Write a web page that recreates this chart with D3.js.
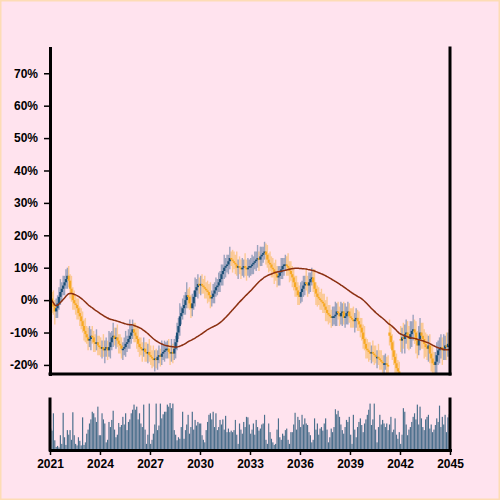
<!DOCTYPE html>
<html><head><meta charset="utf-8">
<script src="https://cdn.jsdelivr.net/npm/d3@7"></script>
<style>html,body{margin:0;padding:0;background:#ffe3ee;} svg{display:block}</style>
</head><body><svg id="chart" width="500" height="500"></svg>
<script>
// ---- data (percent values, one candle per month from Jan 2021) ----
const startYear = 2021;
const startOpen = 0;
const closeValues = [
  0.5, -1, -2, -3.5, -2.5, -1, 1, 2.5, 3.5, 4.5, 5.5, 6.5,
  7.5, 6, 3.5, 2, 0, -1, -1.5, -2.5, -4, -5, -6.5, -8,
  -9.5, -10.5, -11.5, -12.5, -12, -11, -11.5, -13, -13.5, -13, -14, -14.5,
  -15, -14.5, -15.5, -15, -14.5, -15.5, -14.5, -13, -11.5, -11, -12, -11.5,
  -12.5, -13.5, -14, -15, -15, -14.5, -13.5, -13, -12, -11, -10, -9,
  -10, -11, -12, -13.5, -14.5, -15, -15.5, -15, -16, -16.5, -16, -17,
  -17.5, -18, -18.5, -18, -18.5, -17.5, -17, -17.5, -16.5, -16, -15.5, -15,
  -15, -16, -16.5, -16, -16.5, -15, -13, -10, -8, -5, -4, -2.5,
  -1.5, 0, 1.5, 1, -1, -2.5, -1, 1, 3, 4, 5, 4.5,
  5, 4.5, 4, 3.5, 3, 2.5, 1.5, 0.5, 1, 2, 3, 4,
  4.5, 5.5, 6.5, 8, 9, 10, 10.5, 11, 12, 13, 12.5, 12,
  11.5, 11, 10, 10.5, 10, 9.5, 10, 10.5, 10, 9.5, 10, 10.5,
  10.5, 11, 11.5, 12, 12.5, 13, 12.5, 13.5, 14, 14.5, 15, 14,
  12.5, 11.5, 11, 10, 9.5, 8.5, 8, 7, 7.5, 8.5, 9.5, 10.5,
  11, 11, 10.5, 10, 9, 8, 7, 5.5, 4, 3, 1.5, 1,
  2.5, 3.5, 4.5, 5.5, 5, 4.5, 5.5, 6.5, 7, 5.5, 3.5, 2,
  1, 0.5, 0, -0.5, -1, -2, -3, -4, -4.5, -5, -5.5, -5,
  -5, -4.5, -3.5, -4, -5, -4, -3.5, -5.5, -5, -4, -3.5, -5,
  -5.5, -6, -6.5, -6, -5.5, -6.5, -7.5, -8.5, -10, -12, -13.5, -15,
  -15.5, -16, -16.5, -16, -16.5, -17, -17.5, -17.5, -18, -18.5, -19, -19.5,
  -19.5, -19.5, -20, -20.5, -11, -13, -15.5, -17.5, -19.5, -21, -22, -23.5,
  -12.5, -11.5, -12, -10.5, -10, -11, -12, -10.5, -9.5, -9, -10, -12.5,
  -14, -12, -10, -11, -12, -13.5, -14.5, -15, -14, -16.5, -18, -19.5,
  -20, -19, -17, -15.5, -15, -14.5, -15.5, -15, -14, -14.5, -13.5, -14
];
// months whose open differs from the previous close (price gaps): [month index, open]
const openGaps = [[244, -10], [252, -12]];
const upperWick = [
  3, 2, 4, 2, 3, 2.5, 3, 4, 2, 3, 2, 3,
  2.5, 3, 2, 4, 2, 3, 2.5, 2, 3, 2, 2.5, 3,
  2, 4, 2.5, 3, 4, 2, 3, 2, 2.5, 4, 2, 3,
  3, 2, 4, 2.5, 3, 2, 5, 3, 2, 4, 2.5, 3,
  4, 2, 3, 2.5, 2, 3, 4, 2, 3, 5, 2.5, 3,
  2, 3, 2.5, 4, 2, 3, 2, 3.5, 2, 3, 2.5, 4,
  3, 2, 4, 2.5, 3, 2, 3, 2, 4, 2.5, 3, 2,
  2.5, 3, 2, 4, 2.5, 3, 2, 3, 2.5, 4, 2, 3,
  3, 2.5, 4, 2, 3, 2.5, 3, 2, 4, 2.5, 3, 2,
  2.5, 3, 2, 3.5, 2, 3, 2.5, 4, 2, 3, 2.5, 3,
  2, 3, 2.5, 3, 2, 4, 2.5, 3, 2, 3.5, 2, 3,
  3, 2.5, 4, 2, 3, 2.5, 3, 2, 4, 2.5, 3, 2,
  2.5, 3, 2, 3, 2.5, 4, 2, 3, 2.5, 2, 3, 2.5,
  3, 2, 3.5, 2.5, 3, 2, 4, 2.5, 3, 2, 3.5, 2.5,
  2, 3, 2.5, 4, 2, 3, 2.5, 3, 2, 3.5, 2.5, 3,
  3, 2.5, 3, 2, 4, 2.5, 3, 2, 3, 2.5, 4, 2,
  2.5, 3, 2, 3.5, 2.5, 3, 2, 4, 2.5, 3, 2, 3,
  3, 4, 2.5, 3, 2, 3.5, 2.5, 3, 4, 2, 3, 2.5,
  2.5, 3, 4, 2, 3, 2.5, 3, 2, 3, 2.5, 4, 2,
  3, 2.5, 3, 2, 3.5, 2.5, 3, 2, 4, 2.5, 3, 2,
  2.5, 3, 2, 3, 4, 3, 2.5, 3, 2, 3, 2.5, 3,
  4, 3, 4.5, 3, 4, 3.5, 3, 4, 3, 4.5, 3, 3.5,
  3, 4, 4.5, 3, 4, 3, 3.5, 4, 3, 3.5, 3, 4,
  3.5, 3, 4, 3, 3.5, 4, 3, 4.5, 3, 4, 3.5, 4.5
];
const lowerWick = [
  2, 3, 2.5, 4, 2, 3, 2, 2.5, 3, 2, 3, 2,
  3, 2, 3, 2.5, 3, 2, 3, 3.5, 2, 3, 2.5, 2,
  3, 2.5, 2, 3, 2, 3.5, 2, 3, 2.5, 2, 3, 2.5,
  2.5, 3, 2, 4, 2.5, 3, 2, 3.5, 2.5, 3, 2, 3,
  2, 3, 2.5, 3, 3.5, 2, 3, 2.5, 2, 3, 2.5, 2,
  3, 2, 3, 2.5, 3, 2, 3.5, 2, 3, 2.5, 3, 2,
  2.5, 3, 2, 3.5, 2.5, 3, 2, 3, 2.5, 2, 3, 2.5,
  3, 2, 3.5, 2.5, 3, 2, 3, 2.5, 2, 3, 2.5, 2,
  2, 3, 2.5, 3.5, 2, 3, 2.5, 2, 3, 2, 3.5, 2.5,
  3, 2.5, 2, 3, 2.5, 3.5, 2, 3, 2.5, 2, 3, 2,
  2.5, 2, 3, 2, 3.5, 2.5, 3, 2, 3, 2.5, 2, 3.5,
  2, 3, 2.5, 3.5, 2, 3, 2, 3, 2.5, 3.5, 2, 3,
  3, 2.5, 3, 2, 3, 2.5, 3.5, 2, 3, 2.5, 2, 3,
  2.5, 3, 2, 3, 2.5, 3.5, 2, 3, 2.5, 3, 2, 3,
  3, 2, 3, 2.5, 3.5, 2, 3, 2.5, 3, 2, 3, 2.5,
  2, 3, 2.5, 3, 2, 3.5, 2.5, 3, 2, 3, 2.5, 3.5,
  3, 2, 3, 2.5, 3, 2, 3.5, 2.5, 3, 2, 3, 2.5,
  2.5, 3, 3.5, 2, 3, 2.5, 4, 2, 3, 2.5, 3.5, 2,
  3, 2.5, 2, 3.5, 2.5, 3, 2, 3, 2.5, 3, 2, 3,
  2.5, 3, 2, 3, 2.5, 3, 2, 3.5, 2, 3, 2.5, 3,
  3, 2, 3, 2.5, 3, 2, 3, 2.5, 3, 2, 3, 2,
  3.5, 4, 3, 4.5, 3, 4, 3.5, 3, 4, 3, 3.5, 4,
  4, 3, 3.5, 4, 3, 4.5, 3, 3.5, 4, 3, 4, 3.5,
  3, 4, 3.5, 3, 4, 3, 4.5, 3, 3.5, 4, 3, 3.5
];
const volumeValues = [
  42, 38, 72, 19, 6, 8, 5, 29, 12, 73, 25, 10,
  39, 30, 39, 20, 74, 29, 12, 9, 25, 18, 9, 64,
  10, 15, 32, 40, 52, 60, 75, 72, 64, 55, 85, 29,
  29, 72, 60, 52, 15, 20, 55, 45, 59, 77, 40, 25,
  30, 53, 45, 49, 65, 50, 72, 39, 55, 60, 72, 79,
  89, 79, 85, 60, 72, 52, 45, 89, 40, 12, 30, 91,
  12, 20, 32, 50, 91, 39, 48, 91, 62, 70, 75, 75,
  89, 85, 92, 82, 91, 39, 30, 19, 25, 22, 45, 75,
  22, 39, 50, 69, 32, 45, 75, 40, 59, 48, 55, 52,
  52, 29, 20, 15, 39, 55, 69, 72, 60, 75, 45, 72,
  39, 45, 59, 50, 60, 40, 67, 35, 42, 35, 38, 35,
  39, 59, 30, 12, 52, 40, 32, 55, 45, 65, 64, 50,
  32, 40, 52, 30, 59, 45, 38, 42, 50, 52, 69, 20,
  12, 52, 35, 22, 15, 10, 12, 40, 62, 25, 20, 32,
  28, 39, 42, 20, 12, 35, 35, 50, 73, 40, 65, 59,
  45, 69, 50, 62, 52, 49, 35, 29, 15, 20, 62, 40,
  52, 30, 42, 45, 38, 52, 62, 40, 15, 25, 42, 35,
  45, 80, 70, 77, 65, 50, 39, 32, 45, 59, 55, 65,
  30, 12, 69, 40, 25, 45, 55, 62, 49, 35, 52, 60,
  69, 79, 91, 49, 60, 91, 40, 15, 45, 69, 50, 59,
  52, 45, 52, 39, 50, 65, 35, 40, 62, 30, 22, 35,
  12, 30, 82, 75, 50, 29, 40, 45, 55, 65, 72, 60,
  89, 50, 85, 62, 45, 39, 60, 65, 69, 42, 50, 35,
  40, 49, 62, 55, 87, 45, 65, 50, 69, 35, 64, 70
];
const tickYears = [2021, 2024, 2027, 2030, 2033, 2036, 2039, 2042, 2045];
const yTickValues = [-20, -10, 0, 10, 20, 30, 40, 50, 60, 70];
const maWindow = 60;

// ---- layout ----
const L = 50, R = 450, T = 48, MB = 374, VT = 399, VB = 450;
const svg = d3.select('#chart');
svg.append('rect').attr('x', 0.75).attr('y', 0.75).attr('width', 498.5).attr('height', 498.5)
  .attr('fill', '#ffe3ee').attr('stroke', '#fddcb5').attr('stroke-width', 1.5);

const x = d3.scaleTime().domain([new Date(startYear, 0, 1), new Date(2045, 0, 1)]).range([L, R]);
const y = d3.scaleLinear().domain([-22.8, 77.8]).range([MB, T]);
const yv = d3.scaleLinear().domain([0, 100]).range([VB, VT]);
const gapMap = new Map(openGaps);

const data = closeValues.map((c, i) => {
  const o = gapMap.has(i) ? gapMap.get(i) : (i ? closeValues[i - 1] : startOpen);
  const d0 = new Date(startYear, i, 1), d1 = new Date(startYear, i + 1, 1);
  return {
    xc: (x(d0) + x(d1)) / 2, w: x(d1) - x(d0),
    open: o, close: c,
    high: Math.max(o, c) + upperWick[i], low: Math.min(o, c) - lowerWick[i],
    volume: volumeValues[i],
    ma: d3.mean(closeValues.slice(Math.max(0, i - maWindow + 1), i + 1))
  };
});

const UP = '#1d4f76', DOWN = '#f7a823';
svg.append('clipPath').attr('id', 'clip').append('rect')
  .attr('x', L).attr('y', T).attr('width', R - L).attr('height', MB - T);
const plot = svg.append('g').attr('clip-path', 'url(#clip)');

plot.selectAll('line.wick').data(data).join('line').attr('class', 'wick')
  .attr('x1', d => d.xc).attr('x2', d => d.xc)
  .attr('y1', d => y(d.high)).attr('y2', d => y(d.low))
  .attr('stroke', d => d.close >= d.open ? '#4a6f96' : DOWN)
  .attr('stroke-opacity', d => d.close >= d.open ? 0.55 : 0.45)
  .attr('stroke-width', 1.4);

plot.selectAll('rect.body').data(data).join('rect').attr('class', 'body')
  .attr('x', d => d.xc - d.w * 0.8).attr('width', d => d.w * 1.6)
  .attr('y', d => y(Math.max(d.open, d.close)))
  .attr('height', d => Math.max(1.5, Math.abs(y(d.open) - y(d.close))))
  .attr('fill', d => d.close >= d.open ? UP : DOWN);

plot.append('path').datum(data)
  .attr('d', d3.line().x(d => d.xc).y(d => y(d.ma)).curve(d3.curveMonotoneX))
  .attr('fill', 'none').attr('stroke', '#8b2f10').attr('stroke-width', 1.5);

// volume bars
svg.append('g').selectAll('rect').data(data).join('rect')
  .attr('x', d => d.xc - d.w * 0.42).attr('width', d => d.w * 0.84)
  .attr('y', d => yv(d.volume)).attr('height', d => VB - yv(d.volume))
  .attr('fill', '#4b6f8c');

// axes
const font = '"Liberation Sans", Arial, sans-serif';
const yAxis = svg.append('g').attr('transform', `translate(${L},0)`)
  .call(d3.axisLeft(y).tickValues(yTickValues).tickFormat(d => d + '%').tickSize(6).tickSizeOuter(0).tickPadding(6));
yAxis.select('.domain').attr('stroke-width', 3).attr('stroke-linecap', 'square');
yAxis.selectAll('.tick line').attr('stroke-width', 1.5);
yAxis.selectAll('text').attr('font-family', font).attr('font-size', 12).attr('font-weight', 'bold').attr('fill', '#000');

const frame = svg.append('g').attr('stroke', '#000').attr('stroke-width', 3).attr('stroke-linecap', 'square');
frame.append('line').attr('x1', R).attr('x2', R).attr('y1', T).attr('y2', MB);
frame.append('line').attr('x1', L).attr('x2', R).attr('y1', MB).attr('y2', MB);
frame.append('line').attr('x1', L).attr('x2', L).attr('y1', VT).attr('y2', VB);
frame.append('line').attr('x1', R).attr('x2', R).attr('y1', VT).attr('y2', VB);

const xAxis = svg.append('g').attr('transform', `translate(0,${VB})`)
  .call(d3.axisBottom(x).tickValues(tickYears.map(v => new Date(v, 0, 1))).tickFormat(d3.timeFormat('%Y')).tickSize(5).tickSizeOuter(0).tickPadding(4));
xAxis.select('.domain').attr('stroke-width', 3).attr('stroke-linecap', 'square');
xAxis.selectAll('.tick line').attr('stroke-width', 1.5);
xAxis.selectAll('text').attr('font-family', font).attr('font-size', 12).attr('font-weight', 'bold').attr('fill', '#000');
</script></body></html>
